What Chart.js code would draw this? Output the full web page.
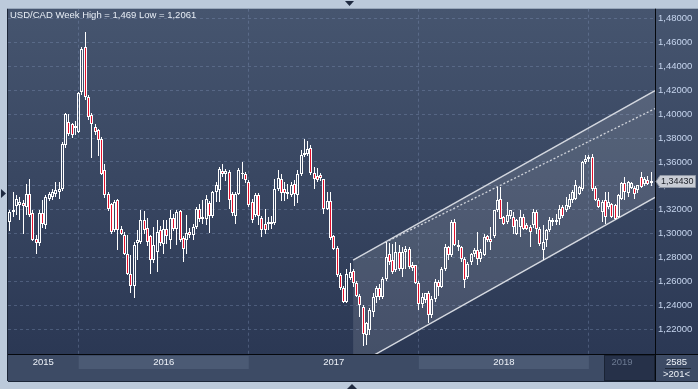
<!DOCTYPE html>
<html>
<head>
<meta charset="utf-8">
<title>USD/CAD Week</title>
<script src="https://cdn.jsdelivr.net/npm/chart.js@4.4.1/dist/chart.umd.min.js"></script>
<style>
html,body{margin:0;padding:0;background:#bccadb;overflow:hidden;}
canvas{display:block;}
</style>
</head>
<body>
<canvas id="chart" width="698" height="389"></canvas>
<script>
// ---------------- data ----------------
const chartTitle = 'USD/CAD Week High = 1,469 Low = 1,2061';
const yearLabels = ['2015', '2016', '2017', '2018', '2019'];
const yearStartIndex = [21, 73, 125, 177];          // candle index of first week of each year
const priceTicks = [1.22, 1.24, 1.26, 1.28, 1.30, 1.32, 1.34, 1.36, 1.38, 1.40, 1.42, 1.44, 1.46, 1.48];
const xRange = [-0.6, 197.2];
const yRange = [1.1991, 1.4884];

const open = [
1.3097,1.3181,1.3231,1.3236,1.3256,1.3222,1.3328,1.3172,1.2958,1.2922,
1.3172,1.3069,1.3292,1.3306,1.3334,1.3348,1.3376,1.3738,1.3933,1.3914,
1.3905,1.3850,1.4184,1.4566,1.4142,1.3995,1.3897,1.3864,1.3794,1.3529,
1.3334,1.3250,1.3027,1.3278,1.3041,1.2986,1.2832,1.2665,1.2559,1.2922,
1.2930,1.3111,1.3050,1.2977,1.2782,1.2846,1.3033,1.2916,1.3041,1.2944,
1.3133,1.3041,1.3189,1.2966,1.2944,1.3014,1.2991,1.3055,1.3209,1.3125,
1.3125,1.3256,1.3144,1.3348,1.3367,1.3521,1.3501,1.3515,1.3334,1.3144,
1.3334,1.3507,1.3501,1.3432,1.3264,1.3153,1.3326,1.3133,1.3083,1.3083,
1.3097,1.3089,1.3376,1.3459,1.3376,1.3348,1.3326,1.3412,1.3326,1.3496,
1.3655,1.3663,1.3719,1.3507,1.3482,1.3493,1.3454,1.3209,1.3270,1.2977,
1.2880,1.2651,1.2540,1.2428,1.2624,1.2687,1.2587,1.2478,1.2381,1.2150,
1.2191,1.2345,1.2470,1.2540,1.2470,1.2623,1.2832,1.2777,1.2693,1.2846,
1.2707,1.2846,1.2874,1.2735,1.2735,1.2582,1.2414,1.2442,1.2498,1.2317,
1.2450,1.2595,1.2553,1.2707,1.2888,1.2818,1.3097,1.2902,1.2888,1.2791,
1.2637,1.2763,1.2832,1.2860,1.2791,1.2818,1.2977,1.2958,1.2977,1.3195,
1.3292,1.3139,1.3097,1.3144,1.3139,1.3000,1.3055,1.3139,1.3069,1.3055,
1.3069,1.3181,1.3041,1.2860,1.2944,1.3027,1.3111,1.3097,1.3125,1.3223,
1.3195,1.3223,1.3278,1.3292,1.3334,1.3376,1.3599,1.3627,1.3641,1.3381,
1.3278,1.3181,1.3278,1.3223,1.3250,1.3236,1.3139,1.3292,1.3423,1.3340,
1.3381,1.3384,1.3362,1.3473,1.3418,1.3451,1.3423
];
const high = [
1.3195,1.3348,1.3320,1.3306,1.3278,1.3418,1.3459,1.3195,1.2986,1.3195,
1.3278,1.3320,1.3350,1.3370,1.3432,1.3432,1.3770,1.4010,1.4003,1.3930,
1.3947,1.4190,1.4560,1.4690,1.4160,1.4010,1.3920,1.3880,1.3810,1.3585,
1.3350,1.3260,1.3278,1.3292,1.3060,1.3010,1.2986,1.2818,1.2930,1.3027,
1.3195,1.3189,1.3133,1.2990,1.3055,1.3111,1.3060,1.3111,1.3111,1.3195,
1.3167,1.3195,1.3200,1.2980,1.3153,1.3050,1.3080,1.3225,1.3250,1.3278,
1.3320,1.3270,1.3360,1.3432,1.3560,1.3585,1.3540,1.3530,1.3350,1.3350,
1.3552,1.3599,1.3520,1.3450,1.3290,1.3340,1.3340,1.3150,1.3209,1.3140,
1.3150,1.3459,1.3535,1.3501,1.3432,1.3418,1.3432,1.3451,1.3529,1.3696,
1.3793,1.3772,1.3740,1.3557,1.3550,1.3510,1.3460,1.3348,1.3348,1.2990,
1.2900,1.2670,1.2560,1.2700,1.2754,1.2700,1.2604,1.2490,1.2400,1.2260,
1.2380,1.2500,1.2560,1.2580,1.2640,1.2930,1.2920,1.2910,1.2930,1.2902,
1.2888,1.2900,1.2890,1.2760,1.2740,1.2600,1.2500,1.2500,1.2520,1.2480,
1.2620,1.2610,1.2720,1.2910,1.2900,1.3110,1.3125,1.2950,1.2900,1.2800,
1.2760,1.2840,1.2880,1.3013,1.2870,1.3000,1.2990,1.3055,1.3200,1.3390,
1.3390,1.3150,1.3264,1.3200,1.3181,1.3125,1.3195,1.3167,1.3090,1.3070,
1.3209,1.3195,1.3055,1.3069,1.3040,1.3139,1.3130,1.3167,1.3236,1.3240,
1.3306,1.3334,1.3362,1.3445,1.3400,1.3610,1.3660,1.3660,1.3665,1.3400,
1.3300,1.3280,1.3348,1.3348,1.3260,1.3250,1.3330,1.3430,1.3473,1.3440,
1.3430,1.3400,1.3410,1.3515,1.3470,1.3480,1.3515
];
const low = [
1.3022,1.3139,1.3153,1.3111,1.3000,1.3153,1.3139,1.2940,1.2832,1.2900,
1.3050,1.3041,1.3270,1.3280,1.3310,1.3292,1.3360,1.3720,1.3820,1.3800,
1.3822,1.3840,1.4160,1.4120,1.3950,1.3635,1.3830,1.3646,1.3490,1.3300,
1.3190,1.3000,1.3013,1.2860,1.2986,1.2818,1.2650,1.2498,1.2461,1.2777,
1.2910,1.3000,1.2900,1.2660,1.2754,1.2679,1.2900,1.2832,1.2916,1.2874,
1.3020,1.2902,1.2930,1.2763,1.2832,1.2960,1.2950,1.3040,1.3100,1.3080,
1.3069,1.3005,1.3130,1.3264,1.3264,1.3470,1.3440,1.3209,1.3144,1.3083,
1.3320,1.3460,1.3420,1.3220,1.3090,1.3140,1.3069,1.2972,1.3000,1.3030,
1.3040,1.3070,1.3360,1.3273,1.3273,1.3292,1.3306,1.3228,1.3259,1.3480,
1.3640,1.3650,1.3490,1.3376,1.3432,1.3440,1.3167,1.3195,1.2950,1.2860,
1.2640,1.2526,1.2415,1.2415,1.2610,1.2554,1.2470,1.2303,1.2061,1.2066,
1.2150,1.2300,1.2420,1.2440,1.2450,1.2600,1.2740,1.2660,1.2680,1.2690,
1.2637,1.2700,1.2700,1.2690,1.2580,1.2359,1.2380,1.2420,1.2247,1.2290,
1.2430,1.2480,1.2540,1.2690,1.2780,1.2800,1.2900,1.2850,1.2760,1.2540,
1.2620,1.2740,1.2800,1.2735,1.2760,1.2810,1.2930,1.2860,1.2960,1.3180,
1.3120,1.3070,1.3080,1.3120,1.3000,1.2990,1.2972,1.3030,1.3030,1.2888,
1.3050,1.3000,1.2900,1.2777,1.2888,1.3010,1.3060,1.3069,1.3069,1.3130,
1.3180,1.3210,1.3260,1.3280,1.3320,1.3360,1.3580,1.3600,1.3360,1.3270,
1.3215,1.3097,1.3083,1.3210,1.3130,1.3110,1.3130,1.3280,1.3278,1.3306,
1.3370,1.3292,1.3340,1.3380,1.3400,1.3410,1.3400
];
const close = [
1.3181,1.3200,1.3287,1.3264,1.3228,1.3334,1.3153,1.2950,1.2922,1.3172,
1.3083,1.3306,1.3328,1.3348,1.3362,1.3376,1.3752,1.4003,1.3836,1.3822,
1.3886,1.4176,1.4546,1.4142,1.3975,1.3919,1.3855,1.3780,1.3501,1.3320,
1.3209,1.3013,1.3264,1.3027,1.3000,1.2827,1.2665,1.2559,1.2908,1.2944,
1.3111,1.3027,1.2930,1.2782,1.2902,1.3014,1.2922,1.3041,1.2977,1.3133,
1.3041,1.3181,1.2950,1.2874,1.3005,1.2991,1.3055,1.3209,1.3125,1.3139,
1.3292,1.3144,1.3348,1.3404,1.3543,1.3501,1.3521,1.3284,1.3172,1.3334,
1.3529,1.3496,1.3445,1.3236,1.3117,1.3320,1.3144,1.3027,1.3027,1.3097,
1.3083,1.3376,1.3465,1.3342,1.3342,1.3328,1.3410,1.3328,1.3496,1.3655,
1.3674,1.3710,1.3507,1.3454,1.3451,1.3465,1.3209,1.3270,1.2966,1.2874,
1.2651,1.2540,1.2428,1.2665,1.2679,1.2582,1.2478,1.2400,1.2158,1.2247,
1.2359,1.2470,1.2540,1.2470,1.2623,1.2804,1.2763,1.2679,1.2846,1.2707,
1.2846,1.2874,1.2721,1.2715,1.2582,1.2414,1.2470,1.2498,1.2317,1.2450,
1.2595,1.2553,1.2707,1.2888,1.2818,1.3097,1.2902,1.2888,1.2791,1.2609,
1.2749,1.2832,1.2860,1.2791,1.2846,1.2972,1.2949,1.2930,1.3195,1.3278,
1.3125,1.3083,1.3153,1.3195,1.3055,1.3111,1.3139,1.3041,1.3041,1.3013,
1.3181,1.3041,1.2916,1.2930,1.3027,1.3111,1.3097,1.3111,1.3209,1.3144,
1.3236,1.3292,1.3348,1.3404,1.3390,1.3599,1.3627,1.3641,1.3376,1.3278,
1.3223,1.3264,1.3139,1.3264,1.3139,1.3125,1.3320,1.3423,1.3348,1.3432,
1.3423,1.3334,1.3404,1.3390,1.3460,1.3418,1.3443
];

// trend channel drawn on the chart: [candle index, price]
const channelUpper  = [[104.9, 1.2777], [197.2, 1.4198]];
const channelLower  = [[104.9, 1.1883], [197.2, 1.3303]];
const channelMiddle = [[114.7, 1.2925], [197.2, 1.4047]];

const lastPrice = 1.34430;
const footerLines = ['2585', '>201<'];

// ---------------- styling ----------------
const FONT = "'Liberation Sans', Arial, sans-serif";
const RED = '#e3102c';
const GRID = 'rgba(130,150,185,0.36)';
const fmt = v => v.toFixed(5).replace('.', ',');

const idx = close.map((_, i) => i);
const bodyData = idx.map(i => ({x: i, y: [Math.min(open[i], close[i]), Math.max(open[i], close[i])]}));
const upperWickData = idx.map(i => ({x: i, y: [Math.max(open[i], close[i]), high[i]]}));
const lowerWickData = idx.map(i => ({x: i, y: [low[i], Math.min(open[i], close[i])]}));
const bodyColors = idx.map(i => close[i] < open[i] ? RED : 'rgba(0,0,0,0)');
const pts = arr => arr.map(([x, y]) => ({x, y}));

// snap candle bars to whole pixels so that they render crisp
const snapPlugin = {
  id: 'snap',
  afterDatasetsUpdate(chart) {
    chart.data.datasets.forEach((ds, di) => {
      const meta = chart.getDatasetMeta(di);
      if (meta.type !== 'bar') return;
      meta.data.forEach(el => {
        el.x = Math.floor(el.x) + 0.5;
        const top = Math.round(Math.min(el.y, el.base));
        let bot = Math.round(Math.max(el.y, el.base));
        if (ds.isBody && bot - top < 1) bot = top + 1;
        el.y = top;
        el.base = bot;
      });
    });
  }
};

const framePlugin = {
  id: 'frame',
  beforeDraw(chart) {
    const {ctx, chartArea: a, width: W, height: H} = chart;
    ctx.save();
    ctx.fillStyle = '#bccadb';
    ctx.fillRect(0, 0, W, H);
    const g = ctx.createLinearGradient(0, a.top, 0, a.bottom);
    g.addColorStop(0, '#46556f');
    g.addColorStop(1, '#2b3854');
    ctx.fillStyle = g;
    ctx.fillRect(a.left, a.top, W - a.left, a.bottom - a.top);
    ctx.restore();
  },
  afterDraw(chart) {
    const {ctx, chartArea: a, width: W, height: H, scales: {x, y}} = chart;
    const bandTop = a.bottom;
    const bandBottom = a.bottom + 27;
    ctx.save();
    // time axis band
    ctx.fillStyle = '#3d4b65';
    ctx.fillRect(a.left, bandTop, W - a.left, bandBottom - bandTop);
    const bounds = [a.left, ...yearStartIndex.map(v => x.getPixelForValue(v)), a.right];
    ctx.fillStyle = '#4b5a74';
    [1, 3].forEach(k => ctx.fillRect(bounds[k], bandTop + 2, bounds[k + 1] - bounds[k], 13));
    const bx = Math.round(bounds[4] + 15);
    ctx.fillStyle = '#263149';
    ctx.fillRect(bx, bandTop + 1, a.right - bx, bandBottom - bandTop - 1);
    ctx.strokeStyle = '#1a2334';
    ctx.lineWidth = 1;
    ctx.strokeRect(bx + 0.5, bandTop + 1.5, a.right - bx - 1, bandBottom - bandTop - 2);
    ctx.font = '9.5px ' + FONT;
    ctx.textAlign = 'center';
    ctx.textBaseline = 'middle';
    yearLabels.forEach((t, k) => {
      ctx.fillStyle = k === 4 ? '#6c7a92' : '#eef2f8';
      ctx.fillText(t, (bounds[k] + bounds[k + 1]) / 2, bandTop + 8.5);
    });
    // footer box
    const fx = (a.right + W) / 2;
    ctx.fillStyle = '#eef2f8';
    ctx.fillText(footerLines[0], fx, bandTop + 8);
    ctx.fillText(footerLines[1], fx, bandTop + 20);
    ctx.strokeStyle = '#1e2839';
    ctx.beginPath();
    ctx.moveTo(a.right + 10, bandTop + 14.5);
    ctx.lineTo(W - 7, bandTop + 14.5);
    ctx.stroke();
    // separators
    ctx.strokeStyle = '#05080d';
    ctx.beginPath();
    ctx.moveTo(a.right + 0.5, a.top);
    ctx.lineTo(a.right + 0.5, bandBottom);
    ctx.moveTo(a.left, a.bottom + 0.5);
    ctx.lineTo(W, a.bottom + 0.5);
    ctx.stroke();
    ctx.strokeStyle = '#1c2638';
    ctx.beginPath();
    ctx.moveTo(a.left - 0.5, a.top);
    ctx.lineTo(a.left - 0.5, bandBottom);
    ctx.moveTo(a.left, bandBottom + 0.5);
    ctx.lineTo(W, bandBottom + 0.5);
    ctx.stroke();
    // title
    ctx.textAlign = 'left';
    ctx.fillStyle = '#e8eef6';
    ctx.fillText(chartTitle, a.left + 2, a.top + 7);
    // last price tag
    const ty = Math.round(y.getPixelForValue(lastPrice)) + 0.5;
    ctx.beginPath();
    ctx.moveTo(a.right + 1, ty);
    ctx.lineTo(a.right + 5, ty - 6);
    ctx.lineTo(W - 2.5, ty - 6);
    ctx.lineTo(W - 2.5, ty + 6);
    ctx.lineTo(a.right + 5, ty + 6);
    ctx.closePath();
    ctx.fillStyle = '#c9cdd5';
    ctx.fill();
    ctx.strokeStyle = '#8e96a4';
    ctx.stroke();
    ctx.fillStyle = '#1b1f27';
    ctx.font = '9px ' + FONT;
    ctx.fillText(fmt(lastPrice), a.right + 6, ty + 0.5);
    // navigation triangles
    ctx.fillStyle = '#1f2a40';
    const tri = p => { ctx.beginPath(); ctx.moveTo(p[0], p[1]); ctx.lineTo(p[2], p[3]); ctx.lineTo(p[4], p[5]); ctx.closePath(); ctx.fill(); };
    tri([345, 1, 354, 1, 349.5, 6]);
    tri([1, 189, 1, 198, 6, 193.5]);
    tri([347, H, 357, H, 352, H - 5]);
    ctx.restore();
  }
};

new Chart(document.getElementById('chart'), {
  type: 'bar',
  data: {
    datasets: [
      { type: 'line', data: pts(channelLower), borderColor: '#d3d7df', borderWidth: 1.4,
        pointRadius: 0, fill: false, order: 10 },
      { type: 'line', data: pts(channelUpper), borderColor: '#d3d7df', borderWidth: 1.4,
        pointRadius: 0, fill: '-1', backgroundColor: 'rgba(255,255,255,0.12)', order: 9 },
      { type: 'line', data: pts(channelMiddle), borderColor: '#cfd3db', borderWidth: 1.3,
        borderDash: [2, 2], pointRadius: 0, fill: false, order: 8 },
      { data: lowerWickData, backgroundColor: '#ffffff', borderWidth: 0, barThickness: 1,
        grouped: false, inflateAmount: 0, order: 2 },
      { data: upperWickData, backgroundColor: '#ffffff', borderWidth: 0, barThickness: 1,
        grouped: false, inflateAmount: 0, order: 2 },
      { data: bodyData, isBody: true, backgroundColor: bodyColors, borderColor: '#ffffff', borderWidth: 1,
        borderSkipped: false, barThickness: 3, grouped: false, inflateAmount: 0, order: 1 }
    ]
  },
  options: {
    responsive: false,
    animation: false,
    devicePixelRatio: 1,
    events: [],
    layout: { padding: { left: 8, top: 8, right: 0, bottom: 35 } },
    plugins: { legend: { display: false }, tooltip: { enabled: false } },
    scales: {
      x: {
        type: 'linear', position: 'bottom', min: xRange[0], max: xRange[1],
        offset: false, bounds: 'data',
        afterBuildTicks: s => { s.ticks = yearStartIndex.map(v => ({value: v})); },
        afterFit: s => { s.height = 0; },
        ticks: { display: false },
        grid: { color: GRID, lineWidth: 1, drawTicks: false, offset: false },
        border: { display: false, dash: [3, 3] }
      },
      y: {
        type: 'linear', position: 'right', min: yRange[0], max: yRange[1],
        beginAtZero: false, bounds: 'data',
        afterBuildTicks: s => { s.ticks = priceTicks.map(v => ({value: v})); },
        afterFit: s => { s.width = 43; },
        ticks: { color: '#c6d5ee', autoSkip: false, padding: 3,
                 font: { family: FONT, size: 9.5 }, callback: v => fmt(v) },
        grid: { color: GRID, lineWidth: 1, drawTicks: false },
        border: { display: false, dash: [3, 3] }
      }
    }
  },
  plugins: [snapPlugin, framePlugin]
});
</script>
</body>
</html>
